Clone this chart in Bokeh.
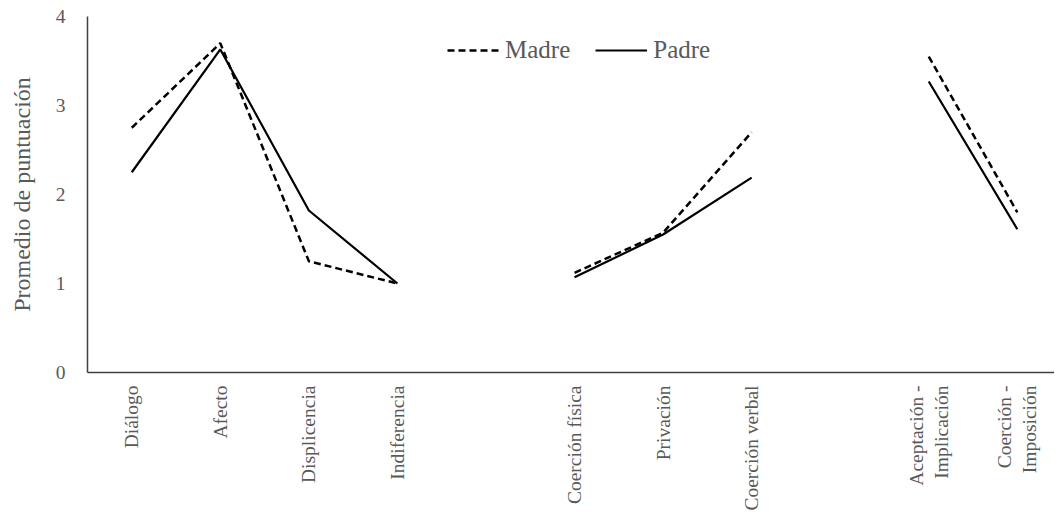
import numpy as np
from bokeh.plotting import figure
from bokeh.models import Range1d, FixedTicker, Legend, LegendItem
from bokeh.embed import file_html
from bokeh.resources import INLINE

# ---- data ----
categories = ["Diálogo", "Afecto", "Displicencia", "Indiferencia", "",
              "Coerción física", "Privación", "Coerción verbal", "",
              "Aceptación -\nImplicación", "Coerción -\nImposición"]
madre = [2.75, 3.70, 1.25, 1.00, None, 1.12, 1.57, 2.70, None, 3.55, 1.80]
padre = [2.25, 3.63, 1.82, 1.00, None, 1.07, 1.55, 2.19, None, 3.27, 1.61]
y_ticks = [0, 1, 2, 3, 4]
y_title = "Promedio de puntuación"

FONT = "Liberation Serif"
TXT = "#595959"
AX = "#404040"

xs = list(range(len(categories)))
m = np.array([np.nan if v is None else v for v in madre], dtype=float)
pa = np.array([np.nan if v is None else v for v in padre], dtype=float)

p = figure(frame_width=967, frame_height=356,
           x_range=Range1d(-0.5, 10.42), y_range=Range1d(0, 4),
           output_backend="svg", toolbar_location=None,
           min_border_left=87, min_border_right=0, min_border_top=16,
           min_border_bottom=4)
p.background_fill_color = "white"
p.border_fill_color = "white"
p.outline_line_color = None
p.grid.grid_line_color = None

r_m = p.line(xs, m, line_color="black", line_width=2.5, line_dash="7 4")
r_p = p.line(xs, pa, line_color="black", line_width=2.2)

# x axis
tick_pos = [i for i, c in enumerate(categories) if c]
p.xaxis.ticker = FixedTicker(ticks=tick_pos)
p.xaxis.major_label_overrides = {i: categories[i] for i in tick_pos}
p.xaxis.major_label_orientation = np.pi / 2
p.xaxis.major_tick_line_color = None
p.xaxis.minor_tick_line_color = None
p.xaxis.major_tick_out = 0
p.xaxis.major_label_standoff = 13
p.xaxis.axis_line_color = AX
p.xaxis.axis_line_width = 1.5
p.xaxis.major_label_text_font = FONT
p.xaxis.major_label_text_font_size = "19.5px"
p.xaxis.major_label_text_color = TXT

# y axis
p.yaxis.ticker = FixedTicker(ticks=y_ticks)
p.yaxis.major_tick_line_color = None
p.yaxis.minor_tick_line_color = None
p.yaxis.major_tick_out = 0
p.yaxis.major_label_standoff = 22
p.yaxis.axis_line_color = AX
p.yaxis.axis_line_width = 1.5
p.yaxis.major_label_text_font = FONT
p.yaxis.major_label_text_font_size = "19.5px"
p.yaxis.major_label_text_color = TXT
p.yaxis.axis_label = y_title
p.yaxis.axis_label_text_font = FONT
p.yaxis.axis_label_text_font_size = "24px"
p.yaxis.axis_label_text_font_style = "normal"
p.yaxis.axis_label_text_color = TXT
p.yaxis.axis_label_standoff = 18

legend = Legend(items=[LegendItem(label="Madre", renderers=[r_m]),
                       LegendItem(label="Padre", renderers=[r_p])],
                orientation="horizontal", location=(360, 308),
                glyph_width=52, label_standoff=6, spacing=25,
                padding=0, margin=0, border_line_color=None,
                background_fill_alpha=0,
                label_text_font=FONT, label_text_font_size="25px",
                label_text_color=TXT)
p.add_layout(legend, "center")

open("out.html", "w").write(file_html(p, INLINE))
